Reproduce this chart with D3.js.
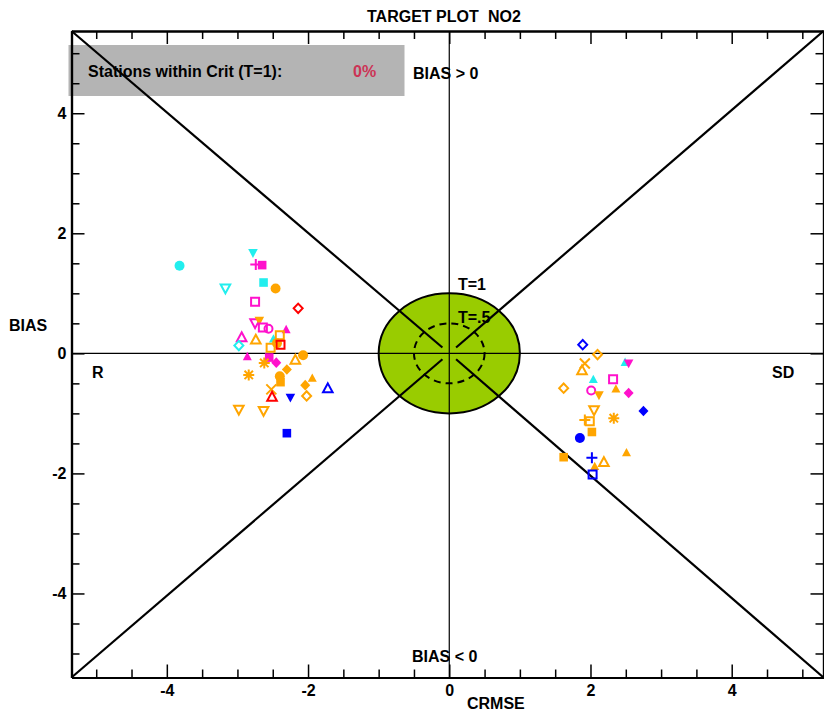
<!DOCTYPE html>
<html><head><meta charset="utf-8">
<script src="https://cdn.jsdelivr.net/npm/d3@7"></script>
<style>
body{margin:0;background:#fff;}
svg text{font-family:"Liberation Sans",Arial,sans-serif;font-weight:bold;font-size:16px;fill:#000;}
</style></head>
<body><svg id="c" width="824" height="713"></svg>
<script>
// ---- data ----
const crmse = [-3.82,-2.78,-2.74,-2.65,-2.63,-3.17,-2.46,-2.75,-2.14,-2.75,-2.69,-2.64,-2.56,-2.31,-2.94,-2.74,-2.98,-2.49,-2.40,-2.44,-2.39,-2.53,-2.86,-2.55,-2.45,-2.62,-2.18,-2.07,-2.30,-2.84,-2.40,-2.39,-1.94,-2.04,-1.72,-2.52,-2.51,-2.25,-2.02,-2.98,-2.63,-2.30,
  1.89,2.10,1.92,1.88,2.49,2.54,2.04,2.32,1.62,2.01,2.12,2.36,2.54,2.75,2.05,2.33,1.92,1.99,2.02,1.85,1.62,2.02,2.19,2.06,2.51,2.03];
const bias = [1.46,1.67,1.48,1.47,1.18,1.08,1.08,0.86,0.75,0.50,0.54,0.43,0.41,0.40,0.27,0.23,0.13,0.245,0.30,0.17,0.145,0.095,-0.05,-0.07,-0.155,-0.16,-0.105,-0.03,-0.27,-0.36,-0.38,-0.48,-0.41,-0.53,-0.58,-0.60,-0.72,-0.74,-0.71,-0.94,-0.96,-1.33,
  0.145,-0.02,-0.17,-0.28,-0.145,-0.17,-0.43,-0.43,-0.58,-0.62,-0.70,-0.59,-0.66,-0.96,-0.95,-1.08,-1.11,-1.13,-1.31,-1.41,-1.73,-1.74,-1.81,-1.88,-1.65,-2.02];
const symbol = ["circleF","triDownF","plus","squareF","squareF","triDownO","circleF","squareO","diamondO","triDownO","triDownF","squareO","circleO","triUpF","triUpO","triUpO","diamondO","triUpF","squareO","circleF","squareO","squareO","triUpF","squareF","diamondF","asterisk","triUpO","circleF","diamondF","asterisk","circleF","squareF","triUpF","diamondF","triUpO","cross","triUpO","triDownF","diamondO","triDownO","triDownO","squareF",
  "diamondO","diamondO","cross","triUpO","triUpF","triDownF","triUpF","squareO","diamondO","circleO","triDownF","triUpF","diamondF","diamondF","triDownO","asterisk","plus","squareO","squareF","circleF","squareF","plus","triUpO","triUpF","triUpF","squareO"];
const colorName = ["cyan","cyan","magenta","magenta","cyan","cyan","orange","magenta","red","magenta","orange","magenta","magenta","magenta","magenta","orange","cyan","cyan","orange","orange","red","orange","magenta","magenta","magenta","orange","orange","orange","orange","orange","orange","orange","orange","orange","blue","orange","red","blue","orange","orange","orange","blue",
  "blue","orange","orange","orange","cyan","magenta","cyan","magenta","orange","magenta","orange","orange","magenta","blue","orange","orange","orange","orange","orange","blue","orange","blue","orange","orange","orange","blue"];
const majorTicks = [-4,-2,0,2,4];
const minorTicks = [-5,-4.5,-3.5,-3,-2.5,-1.5,-1,-0.5,0.5,1,1.5,2.5,3,3.5,4.5,5];
const titleText = ["TARGET PLOT","NO2"];
const critLabel = "Stations within Crit (T=1):";
const critValue = "0%";
const targetRadii = [1, 0.5];

// ---- styles ----
const palette = {cyan:"#22eeee",magenta:"#ff11cc",orange:"#ffa500",red:"#ff0000",blue:"#0000ff"};

const svg = d3.select("#c");
const x = d3.scaleLinear().domain([-5.35,5.3]).range([71.5,823.5]);
const y = d3.scaleLinear().domain([-5.4,5.37]).range([677.5,31]);
const [X0,X1] = x.range(), [Y0,Y1] = y.range();

// title
svg.append("text").attr("x",367).attr("y",22).text(titleText[0]);
svg.append("text").attr("x",488).attr("y",22).text(titleText[1]);

// crit box
svg.append("rect").attr("x",68.5).attr("y",45).attr("width",336).attr("height",51).attr("fill","#b4b4b4");
svg.append("text").attr("x",88).attr("y",77).text(critLabel);
svg.append("text").attr("x",353).attr("y",77).style("fill","#cc3355").text(critValue);

// target ellipse
svg.append("ellipse").attr("cx",x(0)).attr("cy",y(0))
  .attr("rx",x(targetRadii[0])-x(0)).attr("ry",y(0)-y(targetRadii[0]))
  .attr("fill","#99cc00").attr("stroke","#000").attr("stroke-width",2);
svg.append("ellipse").attr("cx",x(0)).attr("cy",y(0))
  .attr("rx",x(targetRadii[1])-x(0)).attr("ry",y(0)-y(targetRadii[1]))
  .attr("fill","none").attr("stroke","#000").attr("stroke-width",2).attr("stroke-dasharray","7,5");

// center lines
svg.append("line").attr("x1",x(0)).attr("x2",x(0)).attr("y1",Y1).attr("y2",Y0).attr("stroke","#000").attr("stroke-width",1.2);
svg.append("line").attr("x1",X0).attr("x2",X1).attr("y1",y(0)).attr("y2",y(0)).attr("stroke","#000").attr("stroke-width",1.2);

// diagonals (corner to near-centre)
const cx0=x(0), cy0=y(0);
[[X0,Y1],[X1,Y1],[X0,Y0],[X1,Y0]].forEach(([px,py])=>{
  const dx=cx0-px, dy=cy0-py, L=Math.hypot(dx,dy), g=9;
  svg.append("line").attr("x1",px).attr("y1",py)
    .attr("x2",cx0-dx/L*g).attr("y2",cy0-dy/L*g)
    .attr("stroke","#000").attr("stroke-width",2.2);
});

// labels
const lab=(t,xx,yy)=>svg.append("text").attr("x",xx).attr("y",yy).text(t);
lab("T=1",458,290);
lab("T=.5",458,323);
lab("BIAS > 0",413,79);
lab("BIAS < 0",412,662);
lab("BIAS",9,331);
lab("R",92,378);
lab("SD",772,378);
lab("CRMSE",467,709);

// axes
function axis(gen, tr, vals, size, labels){
  const a = gen.tickValues(vals).tickSizeInner(-size).tickSizeOuter(0);
  a.tickFormat(labels ? (d=>String(d)) : "");
  const g = svg.append("g").attr("transform",tr).call(a);
  g.select(".domain").attr("stroke-width",2.2);
  g.selectAll(".tick line").attr("stroke-width",1.5);
  g.selectAll("text").attr("font-size",null).attr("font-family",null);
  return g;
}
axis(d3.axisBottom(x).tickPadding(7),`translate(0,${Y0})`,majorTicks,13,true);
axis(d3.axisBottom(x),`translate(0,${Y0})`,minorTicks,8,false);
axis(d3.axisTop(x),`translate(0,${Y1})`,majorTicks,13,false);
axis(d3.axisTop(x),`translate(0,${Y1})`,minorTicks,8,false);
axis(d3.axisLeft(y).tickPadding(5),`translate(${X0},0)`,majorTicks,13,true);
axis(d3.axisLeft(y),`translate(${X0},0)`,minorTicks,8,false);
axis(d3.axisRight(y),`translate(${X1},0)`,majorTicks,13,false);
axis(d3.axisRight(y),`translate(${X1},0)`,minorTicks,8,false);

// markers
function shapePath(s){
  const tri=(h,d)=>`M0,${-d*h}L${h},${d*h*0.85}L${-h},${d*h*0.85}Z`;
  switch(s){
    case "circleF": return d3.symbol(d3.symbolCircle,78)();
    case "circleO": return d3.symbol(d3.symbolCircle,50)();
    case "squareF": return "M-4.3,-4.3H4.3V4.3H-4.3Z";
    case "squareO": return "M-4,-4H4V4H-4Z";
    case "triUpF": return tri(4.5,1);
    case "triUpO": return tri(4.8,1);
    case "triDownF": return tri(4.8,-1);
    case "triDownO": return tri(4.8,-1);
    case "diamondF": return "M0,-5.3L5,0L0,5.3L-5,0Z";
    case "diamondO": return "M0,-4.7L4.5,0L0,4.7L-4.5,0Z";
    case "plus": return "M-5.5,0H5.5M0,-5.5V5.5";
    case "cross": return "M-5,-5L5,5M-5,5L5,-5";
    case "asterisk": return "M-5.5,0H5.5M0,-5.5V5.5M-4.2,-4.2L4.2,4.2M-4.2,4.2L4.2,-4.2";
  }
}
const pts = crmse.map((v,i)=>({cx:v,b:bias[i],s:symbol[i],c:palette[colorName[i]]}));
svg.append("g").selectAll("path").data(pts).join("path")
  .attr("transform",d=>`translate(${x(d.cx)},${y(d.b)})`)
  .attr("d",d=>shapePath(d.s))
  .attr("fill",d=>d.s.endsWith("F")?d.c:"none")
  .attr("stroke",d=>d.s.endsWith("F")?"none":d.c)
  .attr("stroke-width",d=>d.s.endsWith("F")?0:2);
</script></body></html>
